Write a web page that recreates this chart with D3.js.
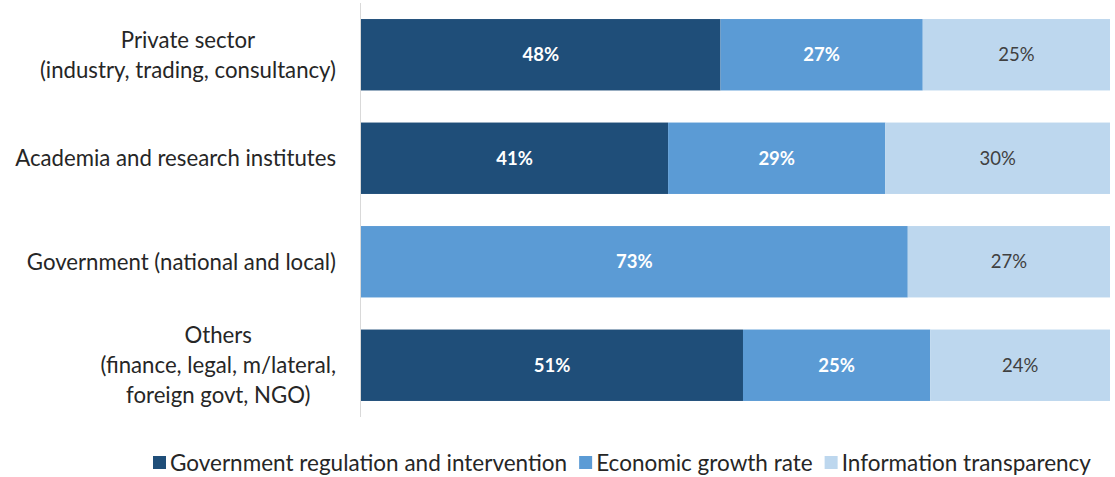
<!DOCTYPE html>
<html>
<head>
<meta charset="utf-8">
<script src="https://cdn.jsdelivr.net/npm/d3@7"></script>
<style>
  html, body { margin: 0; padding: 0; background: #ffffff; }
  svg { display: block; font-family: Lato, "Open Sans", sans-serif; }
</style>
</head>
<body>
<svg id="chart" width="1115" height="477"></svg>
<script>
// Respondent groups (each label split into its display lines)
const categories = [
  ["Private sector", "(industry, trading, consultancy)"],
  ["Academia and research institutes"],
  ["Government (national and local)"],
  ["Others", "(finance, legal, m/lateral,", "foreign govt, NGO)"]
];
const seriesNames = [
  "Government regulation and intervention",
  "Economic growth rate",
  "Information transparency"
];
// Percentage shares per group, one array per series
const regulation   = [48, 41, 0, 51];
const growthRate   = [27, 29, 73, 25];
const transparency = [25, 30, 27, 24];
const seriesColors = ["#1f4e79", "#5b9bd5", "#bdd7ee"];
const labelColors  = ["#ffffff", "#ffffff", "#404040"];

const svg = d3.select("#chart");
const margin = { left: 361, right: 5, top: 3, bottom: 60 };
const W = 1115, H = 477;

const rows = categories.map((c, i) => ({
  key: i, lines: c,
  values: [regulation[i], growthRate[i], transparency[i]]
}));

const stack = d3.stack().keys([0, 1, 2]).value((d, k) => d.values[k]);
const layers = stack(rows);

const x = d3.scaleLinear().domain([0, 100]).range([margin.left, W - margin.right]);
const y = d3.scaleBand().domain(rows.map(r => r.key))
  .range([margin.top, H - margin.bottom])
  .paddingInner(0.31).paddingOuter(0.155);

// Category axis line
svg.append("line")
  .attr("x1", margin.left - 0.5).attr("x2", margin.left - 0.5)
  .attr("y1", margin.top).attr("y2", H - margin.bottom)
  .attr("stroke", "#d9d9d9").attr("stroke-width", 1);

// Stacked bar segments
const g = svg.append("g");
layers.forEach((layer, si) => {
  const segs = g.selectAll(null).data(layer.filter(d => d[1] - d[0] > 0)).enter();
  segs.append("rect")
    .attr("x", d => x(d[0]))
    .attr("y", d => y(d.data.key))
    .attr("width", d => x(d[1]) - x(d[0]))
    .attr("height", y.bandwidth())
    .attr("fill", seriesColors[si]);
  segs.append("text")
    .attr("x", d => (x(d[0]) + x(d[1])) / 2)
    .attr("y", d => y(d.data.key) + y.bandwidth() / 2)
    .attr("dy", "0.36em")
    .attr("text-anchor", "middle")
    .attr("font-size", 18.5)
    .attr("font-weight", si < 2 ? "bold" : "normal")
    .attr("fill", labelColors[si])
    .text(d => (d[1] - d[0]) + "%");
});

// Category labels: each block centred on itself, right edge against the axis
const labelRight = 336;
const lineH = 30;
rows.forEach(r => {
  const t = svg.append("text")
    .attr("font-size", 22.2)
    .attr("fill", "#262626")
    .attr("text-anchor", "middle");
  const cy = y(r.key) + y.bandwidth() / 2;
  const n = r.lines.length;
  r.lines.forEach((ln, i) => {
    t.append("tspan").text(ln)
      .attr("y", cy + (i - (n - 1) / 2) * lineH)
      .attr("dy", "0.35em");
  });
  const widths = t.selectAll("tspan").nodes().map(n => n.getComputedTextLength());
  const cx = labelRight - d3.max(widths) / 2;
  t.selectAll("tspan").attr("x", cx);
});

// Legend
const legendY = 463;
const lg = svg.append("g");
let lx = 153;
seriesNames.forEach((name, i) => {
  lg.append("rect")
    .attr("x", lx).attr("y", legendY - 7)
    .attr("width", 13).attr("height", 13)
    .attr("fill", seriesColors[i]);
  const t = lg.append("text")
    .attr("x", lx + 17).attr("y", legendY)
    .attr("dy", "0.35em")
    .attr("font-size", 22.5)
    .attr("fill", "#262626")
    .text(name);
  lx += 17 + t.node().getComputedTextLength() + 12;
});
</script>
</body>
</html>
